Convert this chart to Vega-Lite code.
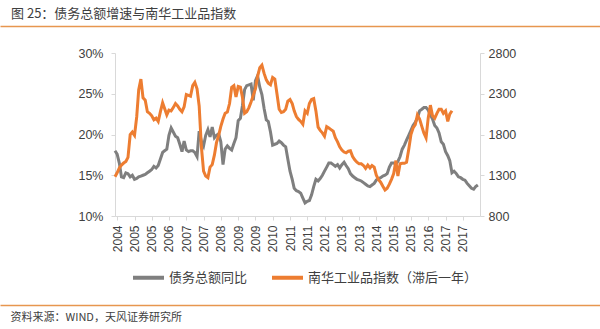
{
  "$schema": "https://vega.github.io/schema/vega-lite/v6.json",
  "width": 365,
  "height": 163,
  "autosize": "none",
  "padding": {"left": 115, "top": 53, "right": 120, "bottom": 113},
  "background": "white",
  "title": {"text": "图 25：债务总额增速与南华工业品指数", "anchor": "start", "frame": "group", "dx": -104, "offset": 5, "font": "Noto Sans CJK SC", "fontSize": 13, "fontWeight": "normal", "color": "#404040"},
  "config": {"view": {"stroke": null}, "font": "Liberation Sans"},
  "data": {"values": [
    {"d":"2004-04-01","a":18.0,"b":1282},{"d":"2004-05-01","a":17.6,"b":1330},{"d":"2004-06-01","a":16.5,"b":1390},{"d":"2004-07-01","a":14.8,"b":1425},{"d":"2004-08-01","a":14.7,"b":1450},{"d":"2004-09-01","a":15.3,"b":1470},{"d":"2004-10-01","a":15.2,"b":1520},{"d":"2004-11-01","a":14.8,"b":1800},{"d":"2004-12-01","a":15.0,"b":1830},
    {"d":"2005-01-01","a":14.5,"b":1790},{"d":"2005-02-01","a":14.6,"b":2018},{"d":"2005-03-01","a":14.8,"b":2350},{"d":"2005-04-01","a":14.9,"b":2480},{"d":"2005-05-01","a":15.0,"b":2250},{"d":"2005-06-01","a":15.1,"b":2220},{"d":"2005-07-01","a":15.3,"b":2080},{"d":"2005-08-01","a":15.5,"b":2060},{"d":"2005-09-01","a":15.7,"b":2030},{"d":"2005-10-01","a":16.1,"b":1980},{"d":"2005-11-01","a":15.9,"b":2000},{"d":"2005-12-01","a":16.2,"b":1960},
    {"d":"2006-01-01","a":17.0,"b":2080},{"d":"2006-02-01","a":17.8,"b":2190},{"d":"2006-03-01","a":18.0,"b":2120},{"d":"2006-04-01","a":18.2,"b":2040},{"d":"2006-05-01","a":19.9,"b":2100},{"d":"2006-06-01","a":20.8,"b":2090},{"d":"2006-07-01","a":20.3,"b":2130},{"d":"2006-08-01","a":19.8,"b":2180},{"d":"2006-09-01","a":19.6,"b":2150},{"d":"2006-10-01","a":18.8,"b":2110},{"d":"2006-11-01","a":17.9,"b":2080},{"d":"2006-12-01","a":19.2,"b":2140},
    {"d":"2007-01-01","a":18.1,"b":2290},{"d":"2007-02-01","a":17.9,"b":2280},{"d":"2007-03-01","a":18.0,"b":2270},{"d":"2007-04-01","a":18.0,"b":2400},{"d":"2007-05-01","a":17.8,"b":2440},{"d":"2007-06-01","a":17.3,"b":2360},{"d":"2007-07-01","a":20.4,"b":2150},{"d":"2007-08-01","a":19.2,"b":1650},{"d":"2007-09-01","a":18.6,"b":1350},{"d":"2007-10-01","a":19.9,"b":1290},{"d":"2007-11-01","a":20.6,"b":1270},{"d":"2007-12-01","a":19.7,"b":1400},
    {"d":"2008-01-01","a":20.9,"b":1430},{"d":"2008-02-01","a":19.6,"b":1550},{"d":"2008-03-01","a":19.9,"b":1700},{"d":"2008-04-01","a":20.1,"b":1790},{"d":"2008-05-01","a":19.1,"b":1900},{"d":"2008-06-01","a":16.3,"b":1990},{"d":"2008-07-01","a":18.2,"b":2060},{"d":"2008-08-01","a":18.6,"b":2075},{"d":"2008-09-01","a":18.3,"b":2180},{"d":"2008-10-01","a":18.1,"b":2380},{"d":"2008-11-01","a":18.9,"b":2400},{"d":"2008-12-01","a":19.6,"b":2260},
    {"d":"2009-01-01","a":21.7,"b":2390},{"d":"2009-02-01","a":22.0,"b":2380},{"d":"2009-03-01","a":23.5,"b":2260},{"d":"2009-04-01","a":25.5,"b":2060},{"d":"2009-05-01","a":26.0,"b":2080},{"d":"2009-06-01","a":26.1,"b":2130},{"d":"2009-07-01","a":26.2,"b":2200},{"d":"2009-08-01","a":24.2,"b":2280},{"d":"2009-09-01","a":26.6,"b":2360},{"d":"2009-10-01","a":27.2,"b":2510},{"d":"2009-11-01","a":25.8,"b":2620},{"d":"2009-12-01","a":24.9,"b":2650},
    {"d":"2010-01-01","a":23.2,"b":2550},{"d":"2010-02-01","a":21.8,"b":2470},{"d":"2010-03-01","a":21.6,"b":2430},{"d":"2010-04-01","a":20.3,"b":2410},{"d":"2010-05-01","a":18.7,"b":2500},{"d":"2010-06-01","a":18.8,"b":2480},{"d":"2010-07-01","a":18.9,"b":2300},{"d":"2010-08-01","a":19.2,"b":2110},{"d":"2010-09-01","a":19.0,"b":2070},{"d":"2010-10-01","a":18.7,"b":2080},{"d":"2010-11-01","a":18.5,"b":2110},{"d":"2010-12-01","a":17.0,"b":2210},
    {"d":"2011-01-01","a":15.5,"b":2230},{"d":"2011-02-01","a":14.5,"b":2180},{"d":"2011-03-01","a":13.4,"b":2090},{"d":"2011-04-01","a":13.1,"b":2020},{"d":"2011-05-01","a":13.0,"b":1985},{"d":"2011-06-01","a":12.8,"b":1960},{"d":"2011-07-01","a":12.2,"b":1925},{"d":"2011-08-01","a":11.6,"b":2090},{"d":"2011-09-01","a":11.8,"b":2060},{"d":"2011-10-01","a":11.9,"b":2180},{"d":"2011-11-01","a":12.6,"b":2230},{"d":"2011-12-01","a":13.6,"b":2240},
    {"d":"2012-01-01","a":14.5,"b":2090},{"d":"2012-02-01","a":14.3,"b":1890},{"d":"2012-03-01","a":14.6,"b":1850},{"d":"2012-04-01","a":15.0,"b":1820},{"d":"2012-05-01","a":15.5,"b":1780},{"d":"2012-06-01","a":16.0,"b":1896},{"d":"2012-07-01","a":16.5,"b":1880},{"d":"2012-08-01","a":16.5,"b":1860},{"d":"2012-09-01","a":16.3,"b":1840},{"d":"2012-10-01","a":16.1,"b":1760},{"d":"2012-11-01","a":16.3,"b":1710},{"d":"2012-12-01","a":15.9,"b":1650},
    {"d":"2013-01-01","a":16.3,"b":1610},{"d":"2013-02-01","a":16.6,"b":1585},{"d":"2013-03-01","a":16.2,"b":1575},{"d":"2013-04-01","a":15.8,"b":1595},{"d":"2013-05-01","a":15.2,"b":1600},{"d":"2013-06-01","a":14.9,"b":1530},{"d":"2013-07-01","a":14.7,"b":1490},{"d":"2013-08-01","a":14.5,"b":1460},{"d":"2013-09-01","a":14.4,"b":1440},{"d":"2013-10-01","a":14.3,"b":1440},{"d":"2013-11-01","a":14.1,"b":1420},{"d":"2013-12-01","a":13.9,"b":1385},
    {"d":"2014-01-01","a":13.7,"b":1425},{"d":"2014-02-01","a":13.6,"b":1390},{"d":"2014-03-01","a":13.8,"b":1420},{"d":"2014-04-01","a":14.0,"b":1400},{"d":"2014-05-01","a":14.4,"b":1300},{"d":"2014-06-01","a":14.6,"b":1245},{"d":"2014-07-01","a":14.7,"b":1215},{"d":"2014-08-01","a":14.9,"b":1165},{"d":"2014-09-01","a":15.0,"b":1120},{"d":"2014-10-01","a":15.2,"b":1140},{"d":"2014-11-01","a":16.0,"b":1190},{"d":"2014-12-01","a":16.5,"b":1250},
    {"d":"2015-01-01","a":16.5,"b":1320},{"d":"2015-02-01","a":16.4,"b":1480},{"d":"2015-03-01","a":16.7,"b":1290},{"d":"2015-04-01","a":17.3,"b":1440},{"d":"2015-05-01","a":18.2,"b":1446},{"d":"2015-06-01","a":18.7,"b":1446},{"d":"2015-07-01","a":19.3,"b":1460},{"d":"2015-08-01","a":19.9,"b":1620},{"d":"2015-09-01","a":20.5,"b":1800},{"d":"2015-10-01","a":21.1,"b":1880},{"d":"2015-11-01","a":21.5,"b":1920},{"d":"2015-12-01","a":22.0,"b":2040},
    {"d":"2016-01-01","a":22.9,"b":1990},{"d":"2016-02-01","a":23.1,"b":1900},{"d":"2016-03-01","a":23.3,"b":1820},{"d":"2016-04-01","a":23.3,"b":1760},{"d":"2016-05-01","a":23.0,"b":2000},{"d":"2016-06-01","a":22.4,"b":2160},{"d":"2016-07-01","a":21.9,"b":2030},{"d":"2016-08-01","a":21.1,"b":2000},{"d":"2016-09-01","a":20.8,"b":2060},{"d":"2016-10-01","a":20.2,"b":2110},{"d":"2016-11-01","a":19.1,"b":2110},{"d":"2016-12-01","a":18.8,"b":2060},
    {"d":"2017-01-01","a":17.9,"b":2090},{"d":"2017-02-01","a":17.4,"b":1960},{"d":"2017-03-01","a":16.8,"b":2050},{"d":"2017-04-01","a":15.3,"b":2092},{"d":"2017-05-01","a":15.5},{"d":"2017-06-01","a":15.2},{"d":"2017-07-01","a":14.8},{"d":"2017-08-01","a":14.7},{"d":"2017-09-01","a":14.5},{"d":"2017-10-01","a":14.4},{"d":"2017-11-01","a":14.0},{"d":"2017-12-01","a":13.7},
    {"d":"2018-01-01","a":13.4},{"d":"2018-02-01","a":13.3},{"d":"2018-03-01","a":13.6},{"d":"2018-04-01","a":13.8}
  ]},
  "resolve": {"scale": {"x": "independent", "y": "independent"}},
  "layer": [
    {
      "mark": {"type": "line", "strokeWidth": 3},
      "encoding": {
        "x": {"field": "d", "type": "temporal",
          "scale": {"type": "utc", "domain": [{"year": 2004, "month": 4, "date": 1, "utc": true}, {"year": 2018, "month": 5, "date": 1, "utc": true}]},
          "axis": {"orient": "bottom", "title": null, "grid": false,
            "values": [
              {"year": 2004, "month": 5, "date": 1, "utc": true},
              {"year": 2005, "month": 1, "date": 1, "utc": true},
              {"year": 2005, "month": 9, "date": 1, "utc": true},
              {"year": 2006, "month": 5, "date": 1, "utc": true},
              {"year": 2007, "month": 1, "date": 1, "utc": true},
              {"year": 2007, "month": 9, "date": 1, "utc": true},
              {"year": 2008, "month": 5, "date": 1, "utc": true},
              {"year": 2009, "month": 1, "date": 1, "utc": true},
              {"year": 2009, "month": 9, "date": 1, "utc": true},
              {"year": 2010, "month": 5, "date": 1, "utc": true},
              {"year": 2011, "month": 1, "date": 1, "utc": true},
              {"year": 2011, "month": 9, "date": 1, "utc": true},
              {"year": 2012, "month": 5, "date": 1, "utc": true},
              {"year": 2013, "month": 1, "date": 1, "utc": true},
              {"year": 2013, "month": 9, "date": 1, "utc": true},
              {"year": 2014, "month": 5, "date": 1, "utc": true},
              {"year": 2015, "month": 1, "date": 1, "utc": true},
              {"year": 2015, "month": 9, "date": 1, "utc": true},
              {"year": 2016, "month": 5, "date": 1, "utc": true},
              {"year": 2017, "month": 1, "date": 1, "utc": true},
              {"year": 2017, "month": 9, "date": 1, "utc": true}
            ],
            "labelExpr": "utcFormat(datum.value, '%Y')",
            "labelAngle": -90, "labelAlign": "right", "labelBaseline": "middle",
            "labelFont": "Liberation Sans", "labelFontSize": 12, "labelColor": "#404040",
            "labelPadding": 5, "labelOverlap": false, "labelFlush": false,
            "tickSize": 4, "tickColor": "#D9D9D9", "domainColor": "#D9D9D9"}
        },
        "y": {"field": "a", "type": "quantitative",
          "scale": {"domain": [10, 30]},
          "axis": {"orient": "left", "title": null, "grid": false, "values": [10, 15, 20, 25, 30],
            "labelExpr": "datum.value + '%'", "labelFont": "Liberation Sans", "labelFontSize": 12.5, "labelColor": "#404040",
            "labelPadding": 8, "tickSize": 4, "tickColor": "#D9D9D9", "domainColor": "#D9D9D9"}
        },
        "color": {"datum": "债务总额同比",
          "scale": {"domain": ["债务总额同比", "南华工业品指数（滞后一年）"], "range": ["#7F7F7F", "#ED7D31"]},
          "legend": {"orient": "none", "legendX": 16, "legendY": 207, "direction": "horizontal", "title": null,
            "symbolType": "stroke", "symbolSize": 961, "symbolStrokeWidth": 4,
            "labelFont": "Noto Sans CJK SC", "labelFontSize": 13, "labelColor": "#404040",
            "labelOffset": 3, "columnPadding": 16, "labelLimit": 400}
        }
      }
    },
    {
      "mark": {"type": "line", "strokeWidth": 3},
      "encoding": {
        "x": {"field": "d", "type": "temporal",
          "scale": {"type": "utc", "domain": [{"year": 2004, "month": 4, "date": 1, "utc": true}, {"year": 2018, "month": 5, "date": 1, "utc": true}]},
          "axis": null},
        "y": {"field": "b", "type": "quantitative",
          "scale": {"domain": [800, 2800]},
          "axis": {"orient": "right", "title": null, "grid": false, "values": [800, 1300, 1800, 2300, 2800],
            "format": "d",
            "labelFont": "Liberation Sans", "labelFontSize": 12.5, "labelColor": "#404040",
            "labelPadding": 4, "tickSize": 4, "tickColor": "#D9D9D9", "domainColor": "#D9D9D9"}
        },
        "color": {"datum": "南华工业品指数（滞后一年）"}
      }
    },
    {
      "mark": {"type": "line", "strokeOpacity": 0},
      "encoding": {
        "x": {"field": "d", "type": "temporal",
          "scale": {"type": "utc", "domain": [{"year": 2004, "month": 4, "date": 1, "utc": true}, {"year": 2018, "month": 5, "date": 1, "utc": true}], "range": [-115, 485]},
          "axis": {"orient": "top", "offset": 27, "domainColor": "#E7964F", "domainWidth": 1.5, "ticks": false, "labels": false, "title": null, "grid": false}},
        "y": {"field": "a", "type": "quantitative", "axis": null}
      }
    },
    {
      "mark": {"type": "line", "strokeOpacity": 0},
      "encoding": {
        "x": {"field": "d", "type": "temporal",
          "scale": {"type": "utc", "domain": [{"year": 2004, "month": 4, "date": 1, "utc": true}, {"year": 2018, "month": 5, "date": 1, "utc": true}], "range": [-115, 485]},
          "axis": {"orient": "bottom", "offset": 89, "domainColor": "#E7964F", "domainWidth": 1.5, "ticks": false, "labels": false, "grid": false,
            "title": "资料来源：WIND，天风证券研究所", "titleX": -105, "titleY": 12, "titleAlign": "left", "titleBaseline": "middle",
            "titleFont": "Noto Sans CJK SC", "titleFontSize": 11, "titleFontWeight": "normal", "titleColor": "#404040"}},
        "y": {"field": "a", "type": "quantitative", "axis": null}
      }
    }
  ]
}
